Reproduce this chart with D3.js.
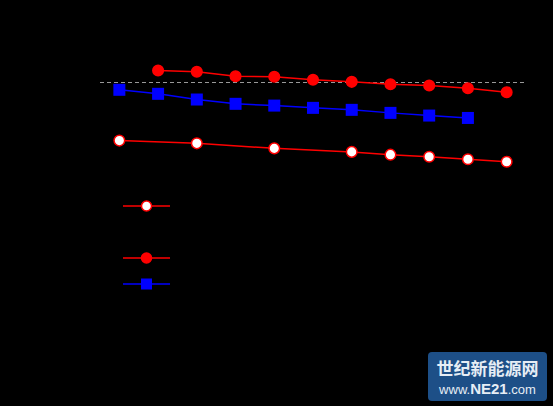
<!DOCTYPE html>
<html>
<head>
<meta charset="utf-8">
<script src="https://cdn.jsdelivr.net/npm/d3@7"></script>
<style>
html,body{margin:0;padding:0;background:#000;}
svg{display:block;}
</style>
</head>
<body>
<div id="chart"></div>
<script>
// ---- data ----
const rolledMonoField = [4, 6, 8, 10, 11, 12, 13, 14];
const rolledMonoJc = [36100, 34400, 31500, 29600, 28200, 27200, 26000, 24900];

const pressedMonoField = [5, 6, 7, 8, 9, 10, 11, 12, 13, 14];
const pressedMonoJc = [123500, 120700, 111700, 110500, 104900, 101200, 97100, 94900, 90500, 84300];

const pressed7Field = [4, 5, 6, 7, 8, 9, 10, 11, 12, 13];
const pressed7Jc = [88000, 82000, 74200, 68800, 66700, 64100, 61900, 58700, 56000, 53700];

const xTicks = [4, 6, 8, 10, 12];
const yTicks = [1000, 10000, 100000];
const practicalLevel = 100000;

const W = 553, H = 406;
const svg = d3.select("#chart").append("svg").attr("width", W).attr("height", H)
  .style("background", "#000");

const x = d3.scaleLinear().domain([3.5, 14.5]).range([100, 526]);
const y = d3.scaleLog().domain([1000, 200000]).range([345, 43]);

const font = "Liberation Sans, Arial, sans-serif";

// axes (black, as in reference)
const xAxis = d3.axisBottom(x).tickValues(xTicks).tickFormat(d3.format("d")).tickSize(0).tickPadding(9);
const gx = svg.append("g").attr("transform", `translate(0,${y(1000)})`).call(xAxis);
gx.selectAll("text").attr("font-family", font).attr("font-size", 15).attr("fill", "#000");
gx.select(".domain").attr("stroke", "#000");

const yAxis = d3.axisLeft(y).tickValues(yTicks).tickFormat("").tickSize(0);
const gy = svg.append("g").attr("transform", `translate(100,0)`).call(yAxis);
gy.select(".domain").attr("stroke", "#000");
yTicks.forEach(t => {
  const tx = svg.append("text").attr("x", 67).attr("y", y(t) + 6)
    .attr("font-family", font).attr("font-size", 17).attr("fill", "#000");
  tx.append("tspan").text("10");
  tx.append("tspan").attr("dy", -7).attr("font-size", 10).text(Math.round(Math.log10(t)));
});

// practical level dashed line
svg.append("line")
  .attr("x1", x(3.5)).attr("x2", x(14.5))
  .attr("y1", y(practicalLevel)).attr("y2", y(practicalLevel))
  .attr("stroke", "#999").attr("stroke-width", 1).attr("stroke-dasharray", "4,3");

svg.append("text").attr("x", 310).attr("y", 51)
  .attr("font-family", font).attr("font-size", 13).attr("fill", "#000")
  .text("level for practical applications");

const line = d3.line().x(d => x(d[0])).y(d => y(d[1]));

function series(fields, vals, color, marker, fill) {
  const pts = fields.map((f, i) => [f, vals[i]]);
  svg.append("path").datum(pts).attr("d", line)
    .attr("fill", "none").attr("stroke", color).attr("stroke-width", 1.5);
  const g = svg.append("g");
  if (marker === "circle") {
    g.selectAll("circle").data(pts).join("circle")
      .attr("cx", d => x(d[0])).attr("cy", d => y(d[1])).attr("r", 5.3)
      .attr("fill", fill).attr("stroke", color).attr("stroke-width", 1.5);
  } else {
    g.selectAll("rect").data(pts).join("rect")
      .attr("x", d => x(d[0]) - 6).attr("y", d => y(d[1]) - 6)
      .attr("width", 12).attr("height", 12).attr("fill", fill);
  }
}

series(rolledMonoField, rolledMonoJc, "#ff0000", "circle", "#ffffff");
series(pressedMonoField, pressedMonoJc, "#ff0000", "circle", "#ff0000");
series(pressed7Field, pressed7Jc, "#0000ff", "square", "#0000ff");

// legend
const lg = svg.append("g");
function legText(tx, ty, s) {
  lg.append("text").attr("x", tx).attr("y", ty + 5)
    .attr("font-family", font).attr("font-size", 15).attr("fill", "#000").text(s);
}
function legLine(ty, color, marker, fill) {
  lg.append("line").attr("x1", 123).attr("x2", 170).attr("y1", ty).attr("y2", ty)
    .attr("stroke", color).attr("stroke-width", 1.5);
  if (marker === "circle") {
    lg.append("circle").attr("cx", 146.5).attr("cy", ty).attr("r", 5)
      .attr("fill", fill).attr("stroke", color).attr("stroke-width", 1.5);
  } else if (marker === "square") {
    lg.append("rect").attr("x", 141).attr("y", ty - 5.5).attr("width", 11).attr("height", 11).attr("fill", fill);
  }
}
legText(123, 181, "rolled tapes");
legLine(206, "#ff0000", "circle", "#ffffff");
legText(179, 206, "mono-filamentary");
legText(123, 233, "pressed tapes");
legLine(258, "#ff0000", "circle", "#ff0000");
legText(185, 258, "mono-filamentary");
legLine(284, "#0000ff", "square", "#0000ff");
legText(186, 284, "7-filamentary");
legLine(309, "#000000", "square", "#000000");
legText(186, 309, "19-filamentary");

svg.append("text").attr("x", 438).attr("y", 284)
  .attr("font-family", font).attr("font-size", 15).attr("fill", "#000").text("4.2 K");

// axis titles
svg.append("text").attr("x", 318).attr("y", 398).attr("text-anchor", "middle")
  .attr("font-family", font).attr("font-size", 17).attr("fill", "#000").text("Magnetic field (T)");
const yl = svg.append("text").attr("transform", "translate(38,192) rotate(-90)").attr("text-anchor", "middle")
  .attr("font-family", font).attr("font-size", 17).attr("fill", "#000");
yl.append("tspan").text("Transport J");
yl.append("tspan").attr("font-size", 12).attr("dy", 4).text("c");
yl.append("tspan").attr("dy", -4).text(" (A/cm²)");

// watermark logo
const logo = svg.append("g");
logo.append("rect").attr("x", 428).attr("y", 352).attr("width", 119).attr("height", 49)
  .attr("rx", 4).attr("fill", "#1d4f87");
logo.append("text").attr("x", 487.5).attr("y", 375).attr("text-anchor", "middle")
  .attr("font-family", "Noto Sans CJK SC, sans-serif").attr("font-size", 17).attr("font-weight", "bold")
  .attr("fill", "#e6edf5").text("世纪新能源网");
const wt = logo.append("text").attr("x", 487.5).attr("y", 394).attr("text-anchor", "middle")
  .attr("font-family", "Liberation Sans, Arial, sans-serif").attr("font-size", 13).attr("fill", "#e6edf5");
wt.append("tspan").text("www.");
wt.append("tspan").attr("font-weight", "bold").attr("font-size", 15).text("NE21");
wt.append("tspan").text(".com");
</script>
</body>
</html>
